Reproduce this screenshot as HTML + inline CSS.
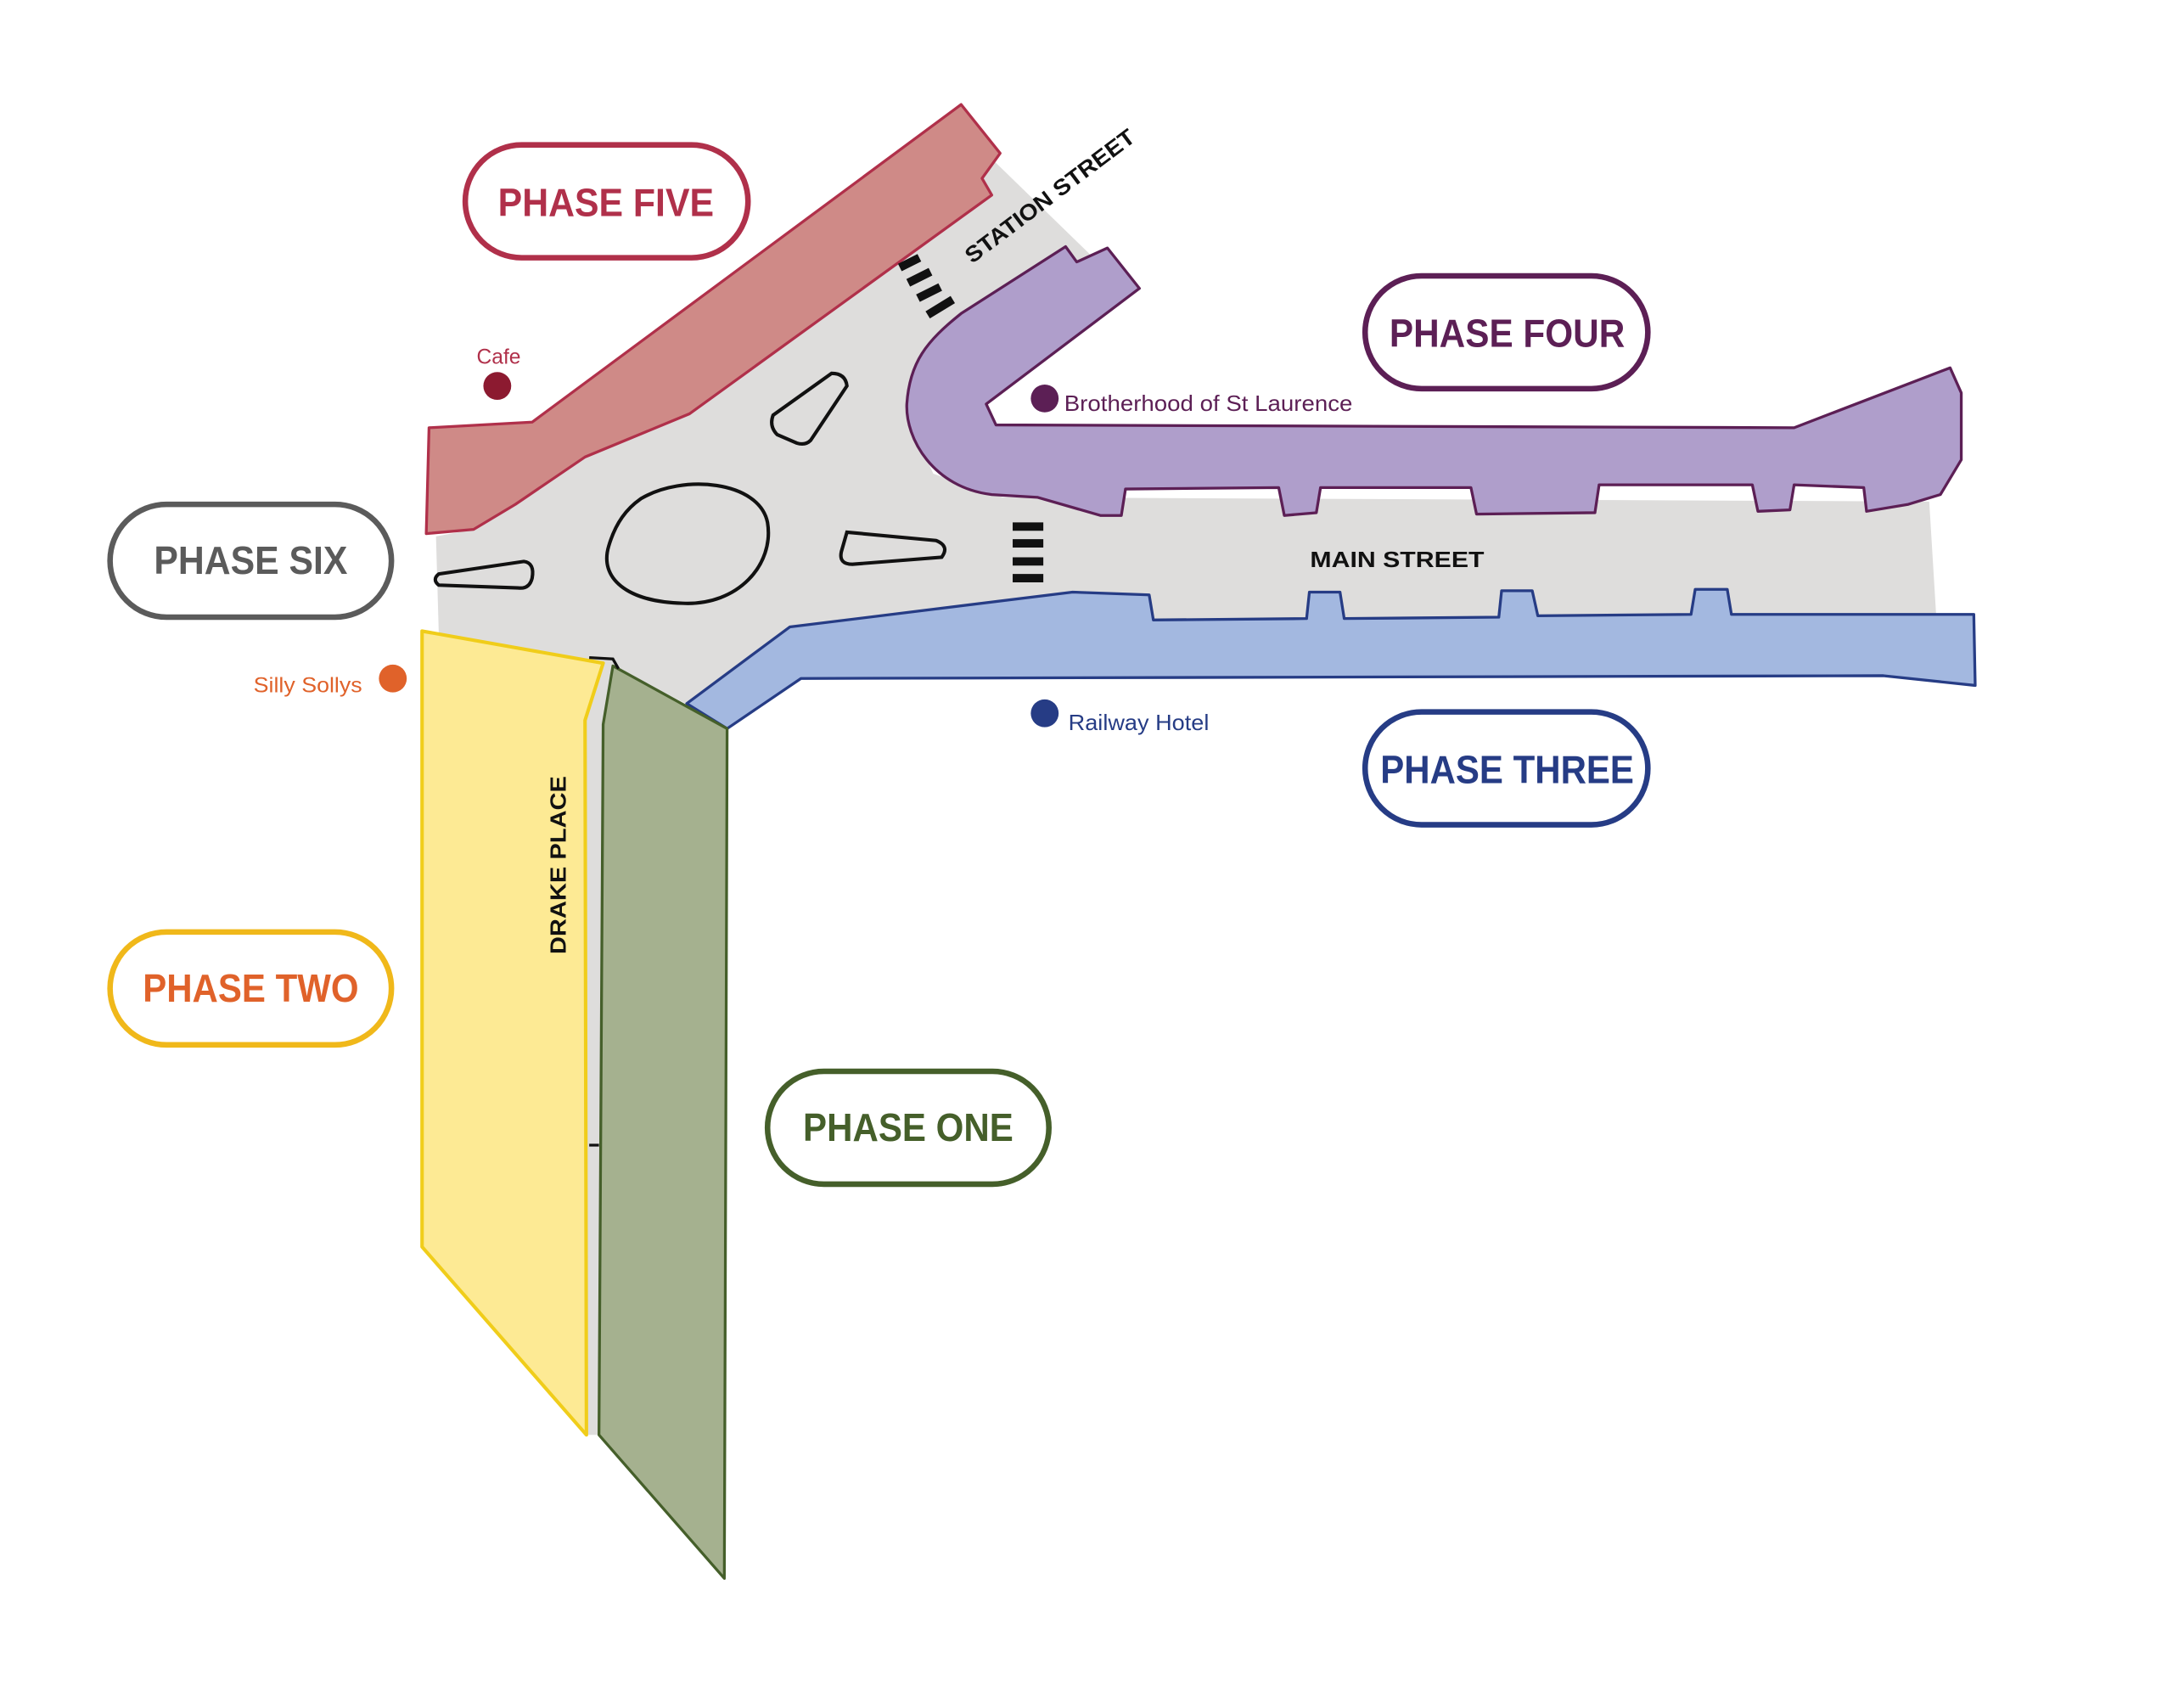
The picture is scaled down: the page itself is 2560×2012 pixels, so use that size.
<!DOCTYPE html>
<html><head><meta charset="utf-8"><style>html,body{margin:0;padding:0;background:#fff}svg{display:block}</style></head>
<body>
<svg width="2560" height="2012" viewBox="0 0 1560 1226" xmlns="http://www.w3.org/2000/svg" font-family="Liberation Sans, sans-serif">
<rect width="1560" height="1226" fill="#fff"/>
<!-- road -->
<polygon points="313,385 340,380 370,362 420,328 495,297 710,112 785,185 700,225 660,265 652,300 670,340 720,357 1385,360 1390,442 570,450 492,505 440,478 433,520 432,1030 421,1030 420,517 432,476 315,455" fill="#dedddc"/>
<polygon points="306,383 340,380 370,362 420,328 330,380" fill="#dedddc"/>
<!-- phase five -->
<polygon points="308,307 382,303 690,75 718,110 705,128 712,140 495,297 420,328 370,362 340,380 306,383" fill="#cf8a87" stroke="#b0304a" stroke-width="2" stroke-linejoin="round"/>
<!-- phase four -->
<path d="M765,177 L773,188 L795,178 L818,207 L708,290 L715,305 L1288,307 L1400,264 L1408,282 L1408,330 L1393,355 L1370,362 L1340,367 L1338,350 L1288,348 L1285,366 L1262,367 L1258,348 L1148,348 L1145,368 L1060,369 L1056,350 L948,350 L945,368 L922,370 L918,350 L808,351 L805,370 L790,370 L745,357 L712,355 C670,350 650,315 651,290 C653,260 665,245 690,225 Z" fill="#af9ecb" stroke="#5c1f55" stroke-width="2" stroke-linejoin="round"/>
<!-- phase three -->
<polygon points="493,505 567,450 770,425 825,427 828,445 938,444 940,425 962,425 965,444 1076,443 1078,424 1100,424 1104,442 1214,441 1217,423 1240,423 1243,441 1417,441 1418,492 1352,485 575,487 522,523" fill="#a3b8e0" stroke="#263c85" stroke-width="2" stroke-linejoin="round"/>
<!-- phase one -->
<polygon points="440,478 522,523 520,1133 430,1030 433,520" fill="#a5b18f" stroke="#455f2a" stroke-width="2" stroke-linejoin="round"/>
<!-- phase two -->
<polygon points="303,453 433,476 420,517 421,1030 303,895" fill="#fdea94" stroke="#f0cd1a" stroke-width="2.5" stroke-linejoin="round"/>
<path d="M423,472 L440,473 L444,480" fill="none" stroke="#111" stroke-width="2"/>
<path d="M423,822 L430,822" fill="none" stroke="#111" stroke-width="2"/>
<!-- islands -->
<path d="M460,358 C490,340 545,345 551,375 C556,405 530,435 490,433 C450,432 430,415 437,392 C442,375 450,365 460,358 Z" fill="none" stroke="#111" stroke-width="2.5"/>
<path d="M555,298 L597,268 Q607,268 608,277 L582,316 Q578,320 572,318 L558,312 Q552,306 555,298 Z" fill="none" stroke="#111" stroke-width="2.5"/>
<path d="M608,382 L672,388 Q682,392 676,400 L612,405 Q602,405 604,396 Z" fill="none" stroke="#111" stroke-width="2.5"/>
<path d="M315,412 L376,403 Q384,404 382,415 Q380,423 372,422 L315,420 Q310,416 315,412 Z" fill="none" stroke="#111" stroke-width="2.5"/>
<!-- crossings -->
<g stroke="#111" stroke-width="6">
<line x1="646" y1="192" x2="660" y2="185"/><line x1="652" y1="203" x2="668" y2="195"/><line x1="659" y1="214" x2="675" y2="206"/><line x1="666" y1="226" x2="684" y2="215"/>
<line x1="727" y1="378" x2="749" y2="378"/><line x1="727" y1="390" x2="749" y2="390"/><line x1="727" y1="403" x2="749" y2="403"/><line x1="727" y1="415" x2="749" y2="415"/>
</g>
<!-- street labels -->
<text x="0" y="0" transform="translate(757,145) rotate(-37)" text-anchor="middle" font-weight="bold" font-size="16" fill="#111" textLength="148" lengthAdjust="spacingAndGlyphs">STATION STREET</text>
<text x="1003" y="407" text-anchor="middle" font-weight="bold" font-size="16" fill="#111" textLength="125" lengthAdjust="spacingAndGlyphs">MAIN STREET</text>
<text x="0" y="0" transform="translate(406,621) rotate(-90)" text-anchor="middle" font-weight="bold" font-size="16" fill="#111" textLength="128" lengthAdjust="spacingAndGlyphs">DRAKE PLACE</text>
<!-- dots -->
<circle cx="357" cy="277" r="10" fill="#8c1a30"/>
<text x="358" y="261" text-anchor="middle" font-size="15" fill="#b0304a">Cafe</text>
<circle cx="282" cy="487" r="10" fill="#e0622a"/>
<text x="260" y="497" text-anchor="end" font-size="15" fill="#e0622a" textLength="78" lengthAdjust="spacingAndGlyphs">Silly Sollys</text>
<circle cx="750" cy="286" r="10" fill="#5c1f55"/>
<text x="764" y="295" font-size="16" fill="#5c1f55" textLength="207" lengthAdjust="spacingAndGlyphs">Brotherhood of St Laurence</text>
<circle cx="750" cy="512" r="10" fill="#263c85"/>
<text x="767" y="524" font-size="16" fill="#263c85" textLength="101" lengthAdjust="spacingAndGlyphs">Railway Hotel</text>
<!-- pills -->
<g stroke-width="4" fill="#fff" font-weight="bold" font-size="28" text-anchor="middle">
<rect x="334" y="104" width="203" height="81" rx="40.5" stroke="#b0304a"/>
<text x="435" y="155" fill="#b0304a" stroke="none" textLength="155" lengthAdjust="spacingAndGlyphs">PHASE FIVE</text>
<rect x="980" y="198" width="203" height="81" rx="40.5" stroke="#5c1f55"/>
<text x="1082" y="249" fill="#5c1f55" stroke="none" textLength="169" lengthAdjust="spacingAndGlyphs">PHASE FOUR</text>
<rect x="79" y="362" width="202" height="81" rx="40.5" stroke="#5b5b5b"/>
<text x="180" y="412" fill="#5b5b5b" stroke="none" textLength="139" lengthAdjust="spacingAndGlyphs">PHASE SIX</text>
<rect x="980" y="511" width="203" height="81" rx="40.5" stroke="#263c85"/>
<text x="1082" y="562" fill="#263c85" stroke="none" textLength="182" lengthAdjust="spacingAndGlyphs">PHASE THREE</text>
<rect x="79" y="669" width="202" height="81" rx="40.5" stroke="#f0b81a"/>
<text x="180" y="719" fill="#e0622a" stroke="none" textLength="155" lengthAdjust="spacingAndGlyphs">PHASE TWO</text>
<rect x="551" y="769" width="202" height="81" rx="40.5" stroke="#455f2a"/>
<text x="652" y="819" fill="#455f2a" stroke="none" textLength="151" lengthAdjust="spacingAndGlyphs">PHASE ONE</text>
</g>
</svg>
</body></html>
